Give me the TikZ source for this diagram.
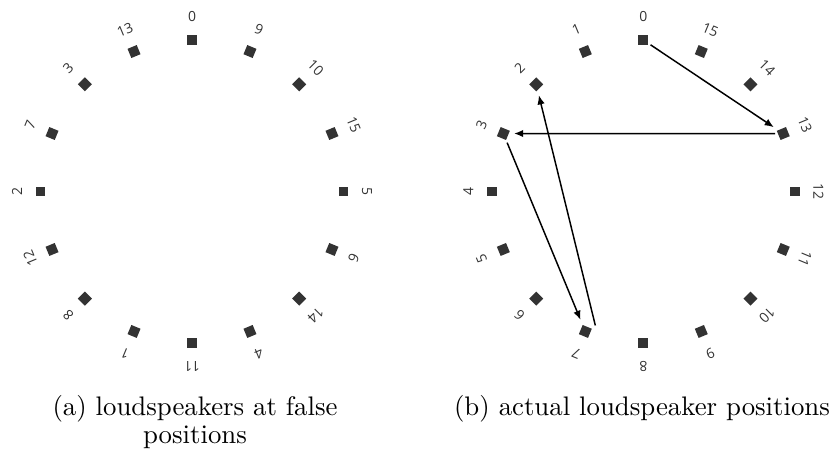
\documentclass[tikz,border=0pt]{standalone}
\usepackage{fontspec}
\newfontfamily\lblfont{Open Sans}
\usetikzlibrary{arrows.meta,calc}
\definecolor{spkgray}{HTML}{333333}
\begin{document}
\begin{tikzpicture}[x=0.373pt,y=0.373pt,
  spk/.style={rectangle,fill=spkgray,inner sep=0pt,minimum size=3.7pt,rotate=#1},
  lbl/.style={font=\lblfont\fontsize{5.2}{5.5}\selectfont,text=spkgray,inner sep=0pt,rotate=#1},
  arr/.style={-{Latex[length=3.4pt,width=2.8pt]},line width=0.55pt,shorten >=1.8pt,shorten <=0.8pt},
  captext/.style={font=\fontsize{10}{10.4}\selectfont,align=center,anchor=north,inner sep=0pt}]
\useasboundingbox (0,0) rectangle (835,450);
% left circle: loudspeakers at false positions
\begin{scope}[shift={(192,258.5)}]
\foreach \n/\a in {0/90,13/112.5,3/135,7/157.5,2/180,12/202.5,8/225,1/247.5,11/270,4/292.5,14/315,6/337.5,5/360,15/22.5,10/45,9/67.5}{
  \node[spk=\a] (l\n) at (\a:151.5) {};
  \node[lbl=\a-90] (ll\n) at (\a:175) {\n};
}
\end{scope}
% right circle: actual positions
\begin{scope}[shift={(643.3,258.5)}]
\foreach \n [evaluate=\n as \a using 90+22.5*\n] in {0,...,15}{
  \node[spk=\a] (r\n) at (\a:151.5) {};
  \node[lbl=\a-90] (rl\n) at (\a:175) {\n};
}
\end{scope}
\coordinate (r7b) at ($(r7)+(10,6)$);
\draw[arr] (r0) -- (r13);
\draw[arr] (r13) -- (r3);
\draw[arr] (r3) -- (r7);
\draw[arr,shorten <=0pt] (r7b) -- (r2);
% captions
\node[captext] (capa) at (195,55) {(a) loudspeakers at false\\positions};
\node[captext] (capb) at (642,55) {(b) actual loudspeaker positions};
\end{tikzpicture}
\end{document}
